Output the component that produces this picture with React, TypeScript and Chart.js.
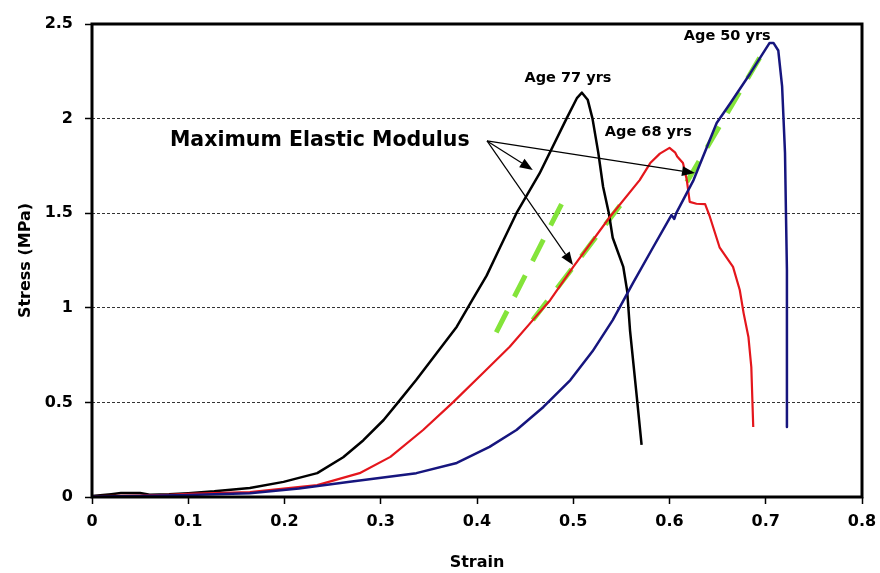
import React, { useEffect, useRef } from 'react';
import { Chart, registerables } from 'chart.js';
Chart.register(...registerables);

const FONT = '"DejaVu Sans", sans-serif';

// Strain (x) / Stress MPa (y) samples
const age77: [number, number][] = [
  [0, 0.005], [0.02, 0.015], [0.03, 0.021], [0.05, 0.021], [0.06, 0.012], [0.08, 0.014], [0.1, 0.02],
  [0.127, 0.03], [0.164, 0.048], [0.199, 0.08], [0.234, 0.126], [0.261, 0.21], [0.282, 0.3], [0.303, 0.407],
  [0.318, 0.5], [0.337, 0.62], [0.358, 0.76], [0.379, 0.9], [0.395, 1.04], [0.41, 1.17], [0.424, 1.32],
  [0.441, 1.5], [0.465, 1.71], [0.493, 2.0], [0.504, 2.11], [0.509, 2.137], [0.515, 2.1], [0.52, 2.0],
  [0.526, 1.82], [0.531, 1.64], [0.537, 1.5], [0.541, 1.37], [0.552, 1.216], [0.556, 1.09], [0.559, 0.88],
  [0.566, 0.53], [0.571, 0.275],
];
const age68: [number, number][] = [
  [0, 0.005], [0.05, 0.008], [0.08, 0.012], [0.1, 0.016], [0.164, 0.026], [0.234, 0.063], [0.278, 0.126],
  [0.31, 0.212], [0.344, 0.354], [0.375, 0.5], [0.406, 0.654], [0.434, 0.794], [0.458, 0.935], [0.476, 1.04],
  [0.5, 1.216], [0.538, 1.48], [0.569, 1.675], [0.58, 1.765], [0.59, 1.815], [0.6, 1.845], [0.606, 1.82],
  [0.608, 1.8], [0.614, 1.765], [0.618, 1.675], [0.621, 1.56], [0.628, 1.55], [0.637, 1.548], [0.642, 1.48],
  [0.652, 1.32], [0.666, 1.216], [0.673, 1.094], [0.677, 0.972], [0.682, 0.846], [0.685, 0.687], [0.687, 0.37],
];
const age50: [number, number][] = [
  [0, 0.003], [0.05, 0.005], [0.1, 0.01], [0.164, 0.02], [0.215, 0.045], [0.268, 0.08], [0.337, 0.126],
  [0.379, 0.18], [0.413, 0.265], [0.441, 0.354], [0.469, 0.476], [0.497, 0.618], [0.52, 0.77],
  [0.541, 0.935], [0.562, 1.13], [0.583, 1.32], [0.602, 1.49], [0.605, 1.47], [0.607, 1.5],
  [0.625, 1.675], [0.649, 1.977], [0.663, 2.08], [0.684, 2.24], [0.704, 2.4], [0.708, 2.4], [0.713, 2.36],
  [0.717, 2.17], [0.72, 1.82], [0.721, 1.5], [0.722, 1.2], [0.722, 0.37],
];

// Maximum elastic modulus tangent segments
const modulus50: [number, number][] = [[0.618, 1.665], [0.697, 2.35]];
const modulus68: [number, number][] = [[0.458, 0.935], [0.553, 1.57]];
const modulus77: [number, number][] = [[0.42, 0.87], [0.488, 1.55]];

const xTickLabels = ['0', '0.1', '0.2', '0.3', '0.4', '0.5', '0.6', '0.7', '0.8'];
const yTickLabels = ['0', '0.5', '1', '1.5', '2', '2.5'];

// annotations (data units)
const arrowOrigin: [number, number] = [0.4104, 1.882];
const arrowTargets: [number, number][] = [[0.458, 1.728], [0.4997, 1.226], [0.6265, 1.712]];
const labels: { text: string; x: number; y: number; size: number; align: CanvasTextAlign }[] = [
  { text: 'Maximum Elastic Modulus', x: 0.081, y: 1.882, size: 20.5, align: 'left' },
  { text: 'Age 77 yrs', x: 0.4945, y: 2.215, size: 14.5, align: 'center' },
  { text: 'Age 68 yrs', x: 0.578, y: 1.929, size: 14.5, align: 'center' },
  { text: 'Age 50 yrs', x: 0.66, y: 2.437, size: 14.5, align: 'center' },
];

const toPts = (a: [number, number][]) => a.map(([x, y]) => ({ x, y }));

const annotPlugin = {
  id: 'annot',
  afterDraw(chart: any) {
    const { ctx, chartArea: ca, scales } = chart;
    const xs = scales.x, ys = scales.y;
    ctx.save();
    // frame
    ctx.strokeStyle = '#000';
    ctx.lineWidth = 3;
    ctx.strokeRect(ca.left, ca.top, ca.right - ca.left, ca.bottom - ca.top);
    // arrows
    const ox = xs.getPixelForValue(arrowOrigin[0]);
    const oy = ys.getPixelForValue(arrowOrigin[1]);
    ctx.lineWidth = 1.2;
    ctx.fillStyle = '#000';
    for (const [tx, ty] of arrowTargets) {
      const ex = xs.getPixelForValue(tx);
      const ey = ys.getPixelForValue(ty);
      const ang = Math.atan2(ey - oy, ex - ox);
      const L = 13, W = 5;
      const bx = ex - L * Math.cos(ang), by = ey - L * Math.sin(ang);
      ctx.beginPath();
      ctx.moveTo(ox, oy);
      ctx.lineTo(bx, by);
      ctx.stroke();
      ctx.beginPath();
      ctx.moveTo(ex, ey);
      ctx.lineTo(bx + W * Math.sin(ang), by - W * Math.cos(ang));
      ctx.lineTo(bx - W * Math.sin(ang), by + W * Math.cos(ang));
      ctx.closePath();
      ctx.fill();
    }
    // labels
    ctx.textBaseline = 'middle';
    for (const l of labels) {
      ctx.font = `bold ${l.size}px ${FONT}`;
      ctx.textAlign = l.align;
      ctx.fillText(l.text, xs.getPixelForValue(l.x), ys.getPixelForValue(l.y));
    }
    ctx.restore();
  },
};

export default function App() {
  const ref = useRef<HTMLCanvasElement>(null);
  useEffect(() => {
    document.body.style.margin = '0';
    const canvas = ref.current!;
    const curve = (data: [number, number][], color: string, w: number) => ({
      data: toPts(data),
      showLine: true,
      borderColor: color,
      backgroundColor: color,
      borderWidth: w,
      pointRadius: 0,
      fill: false,
      tension: 0,
      borderJoinStyle: 'round' as const,
    });
    const green = (data: [number, number][]) => ({
      ...curve(data, '#84e43a', 5),
      borderDash: [24, 16],
      borderCapStyle: 'butt' as const,
    });
    const chart = new Chart(canvas, {
      type: 'scatter',
      data: {
        datasets: [
          curve(age50, '#16157e', 2.5),
          curve(age68, '#e4161c', 2.2),
          curve(age77, '#000000', 2.5),
          green(modulus50),
          green(modulus68),
          green(modulus77),
        ],
      },
      options: {
        responsive: false,
        animation: false,
        layout: { padding: { top: 24, right: 18, left: 0, bottom: 0 } },
        plugins: { legend: { display: false }, tooltip: { enabled: false } },
        scales: {
          x: {
            type: 'linear',
            min: 0,
            max: 0.8,
            afterFit: (s: any) => { s.height = 76; s.paddingLeft = 0; s.paddingRight = 0; },
            ticks: {
              stepSize: 0.1,
              color: '#000',
              padding: 8,
              font: { family: FONT, weight: 'bold', size: 16 },
              callback: (_v: any, i: number) => xTickLabels[i],
            },
            grid: { drawOnChartArea: false, drawTicks: true, tickLength: 7, tickColor: '#000', tickWidth: 1.5 },
            border: { display: false },
            title: {
              display: true,
              text: 'Strain',
              color: '#000',
              font: { family: FONT, weight: 'bold', size: 16 },
              padding: { top: 0, bottom: 1 },
            },
          },
          y: {
            type: 'linear',
            min: 0,
            max: 2.5,
            afterFit: (s: any) => { s.width = 92; s.paddingTop = 0; s.paddingBottom = 0; },
            ticks: {
              stepSize: 0.5,
              color: '#000',
              padding: 12,
              font: { family: FONT, weight: 'bold', size: 16 },
              callback: (_v: any, i: number) => yTickLabels[i],
            },
            grid: {
              color: (c: any) => (c.tick && (c.tick.value === 0 || c.tick.value === 2.5) ? 'rgba(0,0,0,0)' : '#333'),
              lineWidth: 1,
              tickLength: 7,
              tickColor: '#000',
              tickWidth: 1.5,
              tickBorderDash: [],
            },
            border: { display: false, dash: [3, 2] },
            title: {
              display: true,
              text: 'Stress (MPa)',
              color: '#000',
              font: { family: FONT, weight: 'bold', size: 16 },
              padding: { top: 16, bottom: 0 },
            },
          },
        },
      },
      plugins: [annotPlugin],
    } as any);
    return () => chart.destroy();
  }, []);
  return (
    <div style={{ position: 'relative', width: 880, height: 573 }}>
      <canvas ref={ref} width={880} height={573} style={{ display: 'block' }} />
    </div>
  );
}
